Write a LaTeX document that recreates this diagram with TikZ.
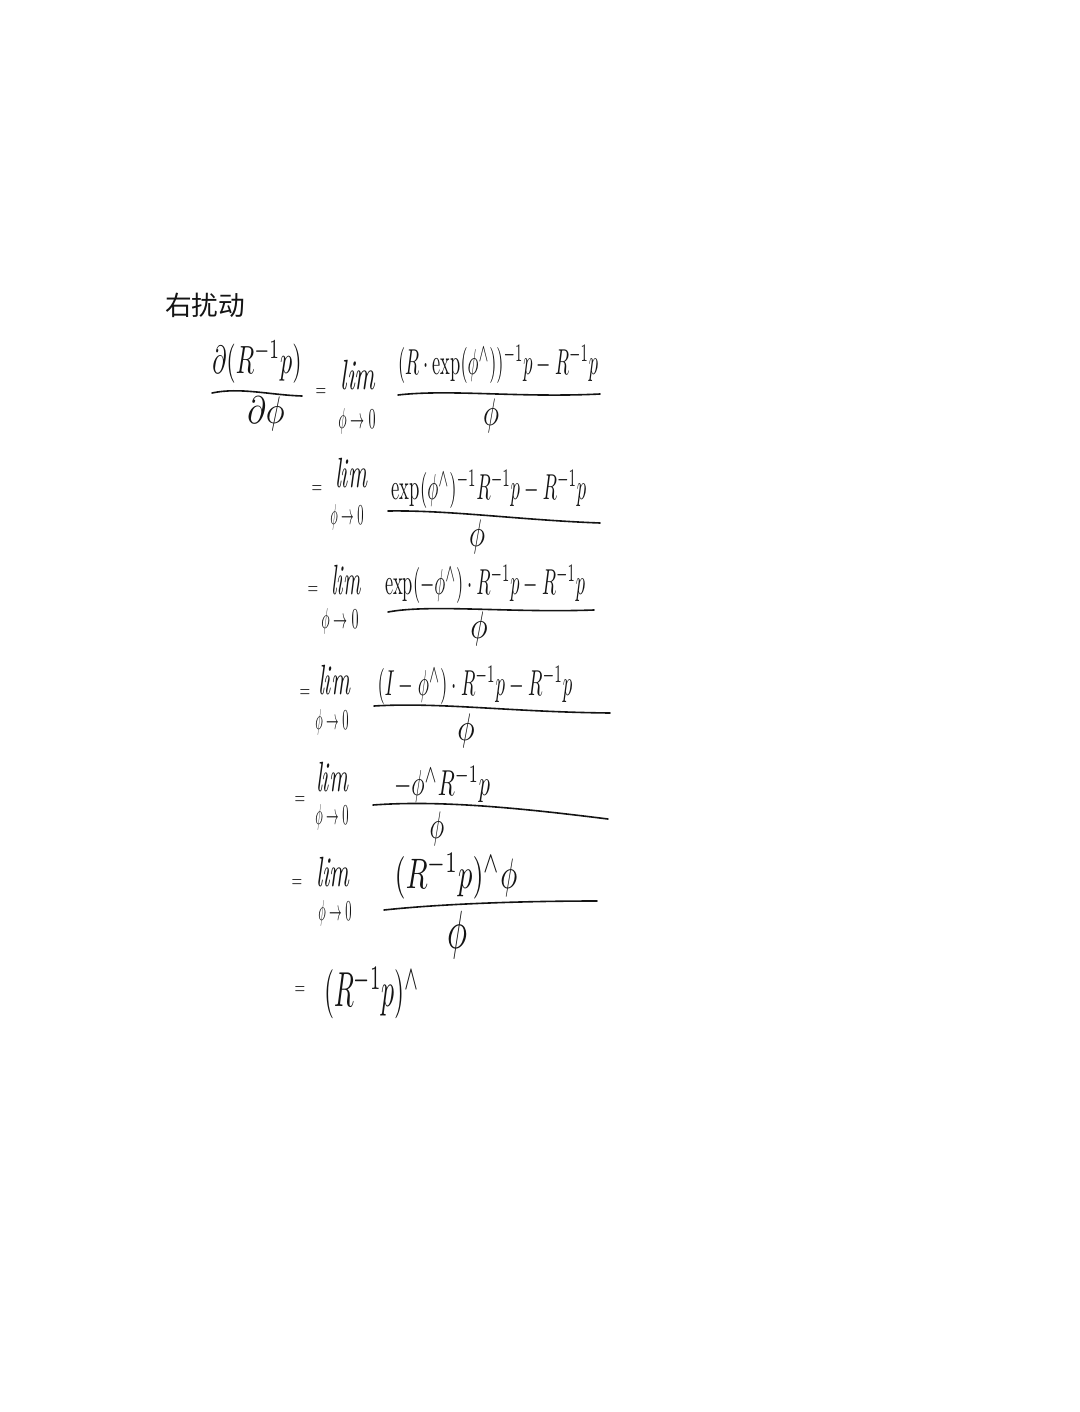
\documentclass[tikz,border=0pt]{standalone}
\usepackage{graphicx}
\usepackage{fontspec}
\newfontfamily\cjk{Noto Sans CJK SC}
\newcommand{\fitw}[3]{\resizebox{#1pt}{#2pt}{$#3$}}
\newcommand{\hatw}{{}^{\wedge}}
\definecolor{ink}{HTML}{141414}
\tikzset{
  expr/.style={inner sep=0pt,outer sep=0pt,text=ink},
  fracbar/.style={draw=ink,line width=1.2pt,line cap=round},
}
\begin{document}
\begin{tikzpicture}[x=0.75pt,y=-0.75pt]
\useasboundingbox[fill=white] (0,0) rectangle (1079,1412);
% heading
\node[expr,font=\cjk\fontsize{20}{24}\selectfont] (title) at (205,305) {右扰动};
% row 1
\node[expr] (n0) at (257,362) {\fitw{67}{24}{\partial(R^{-1}p)}};
\draw[fracbar] (212,393) .. controls (240,387) and (270,395) .. (302,396);
\node[expr] (d0) at (266,414) {\fitw{28}{20}{\partial\phi}};
\node[expr] (e1) at (321,392) {\fitw{8}{6}{=}};
\node[expr] (l1) at (358,375) {\fitw{26}{22}{\mathit{lim}}};
\node[expr] (s1) at (357,421) {\fitw{28}{15}{\phi\to 0}};
\node[expr] (n1) at (498,364) {\fitw{150}{22}{(R\cdot\exp(\phi\hatw))^{-1}p-R^{-1}p}};
\draw[fracbar] (398,395) .. controls (450,389) and (520,398) .. (600,394);
\node[expr] (d1) at (491,416) {\fitw{12}{20}{\phi}};
% row 2
\node[expr] (e2) at (317,489) {\fitw{8}{6}{=}};
\node[expr] (l2) at (351,473) {\fitw{24}{22}{\mathit{lim}}};
\node[expr] (s2) at (347,517) {\fitw{25}{15}{\phi\to 0}};
\node[expr] (n2) at (489,489) {\fitw{146}{22}{\exp(\phi\hatw)^{-1}R^{-1}p-R^{-1}p}};
\draw[fracbar] (388,511) .. controls (450,510) and (520,520) .. (600,523);
\node[expr] (d2) at (477,537) {\fitw{12}{20}{\phi}};
% row 3
\node[expr] (e3) at (313,590) {\fitw{8}{6}{=}};
\node[expr] (l3) at (346,580) {\fitw{22}{22}{\mathit{lim}}};
\node[expr] (s3) at (340,621) {\fitw{28}{15}{\phi\to 0}};
\node[expr] (n3) at (485,584) {\fitw{150}{22}{\exp(-\phi\hatw)\cdot R^{-1}p-R^{-1}p}};
\draw[fracbar] (388,612) .. controls (430,604) and (510,613) .. (594,610);
\node[expr] (d3) at (479,629) {\fitw{13}{20}{\phi}};
% row 4
\node[expr] (e4) at (305,693) {\fitw{8}{6}{=}};
\node[expr] (l4) at (334,680) {\fitw{24}{22}{\mathit{lim}}};
\node[expr] (s4) at (332,722) {\fitw{25}{15}{\phi\to 0}};
\node[expr] (n4) at (475,685) {\fitw{146}{22}{(I-\phi\hatw)\cdot R^{-1}p-R^{-1}p}};
\draw[fracbar] (374,706) .. controls (440,702) and (510,712) .. (610,713);
\node[expr] (d4) at (466,731) {\fitw{13}{20}{\phi}};
% row 5
\node[expr] (e5) at (300,800) {\fitw{8}{6}{=}};
\node[expr] (l5) at (332,777) {\fitw{24}{22}{\mathit{lim}}};
\node[expr] (s5) at (332,817) {\fitw{25}{15}{\phi\to 0}};
\node[expr] (n5) at (442,784) {\fitw{72}{22}{-\phi\hatw R^{-1}p}};
\draw[fracbar] (373,805) .. controls (440,800) and (520,808) .. (608,819);
\node[expr] (d5) at (437,829) {\fitw{11}{20}{\phi}};
% row 6
\node[expr] (e6) at (297,883) {\fitw{8}{6}{=}};
\node[expr] (l6) at (333,872) {\fitw{25}{22}{\mathit{lim}}};
\node[expr] (s6) at (335,913) {\fitw{25}{15}{\phi\to 0}};
\node[expr] (n6) at (456,876) {\fitw{92}{26}{(R^{-1}p)\hatw\phi}};
\draw[fracbar] (384,910) .. controls (440,904) and (520,901) .. (597,901);
\node[expr] (d6) at (457,935) {\fitw{15}{28}{\phi}};
% row 7
\node[expr] (e7) at (300,990) {\fitw{8}{6}{=}};
\node[expr] (n7) at (372,993) {\fitw{72}{30}{(R^{-1}p)\hatw}};
\end{tikzpicture}
\end{document}
